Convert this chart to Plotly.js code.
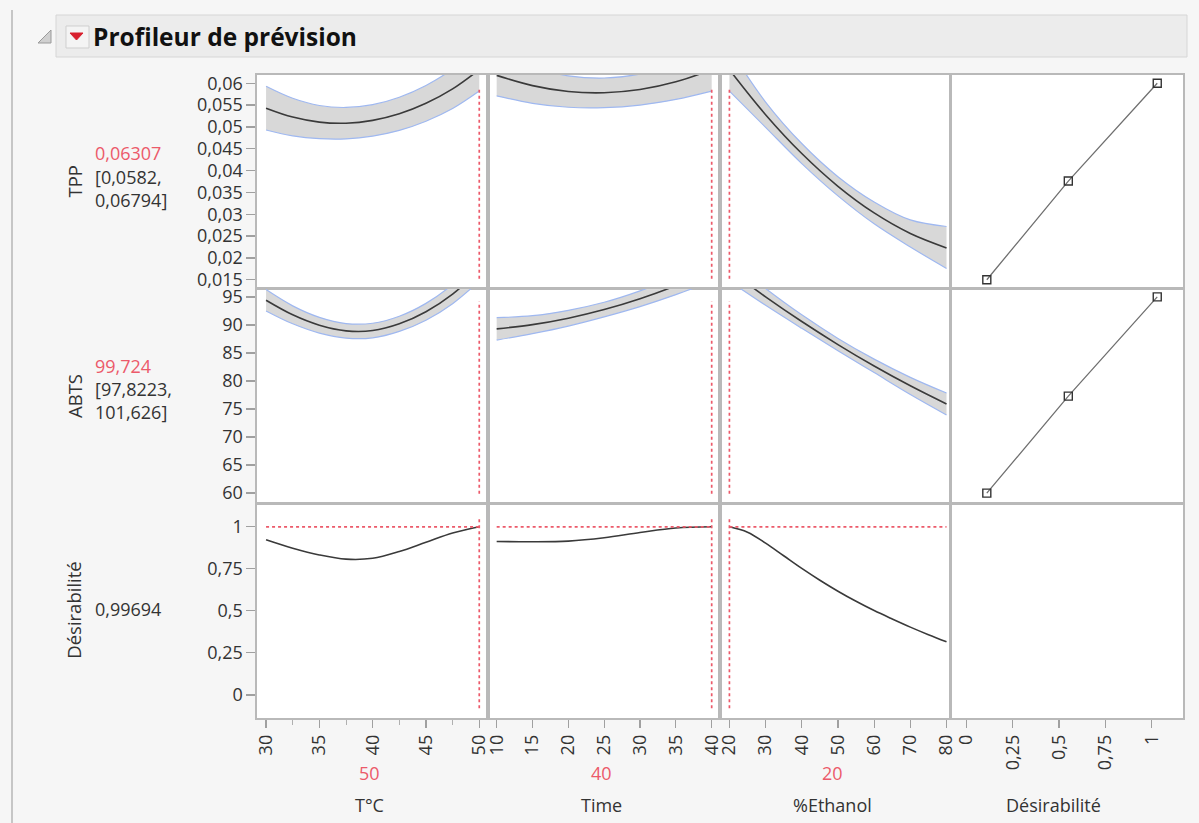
<!DOCTYPE html>
<html><head><meta charset="utf-8">
<script src="https://cdn.plot.ly/plotly-3.0.1.min.js"></script>
<style>html,body{margin:0;padding:0;background:#f6f6f6;}#chart{width:1199px;height:823px;}</style>
</head><body><div id="chart"></div>
<script>
// ---------------- DATA ----------------
const factorNames = ['T°C', 'Time', '%Ethanol', 'Désirabilité'];
const factorCurrent = [50, 40, 20];
const factorCurrentText = ['50', '40', '20'];
const responseNames = ['TPP', 'ABTS', 'Désirabilité'];
const tppPredText = '0,06307';
const tppCIText = ['[0,0582,', '0,06794]'];
const abtsPredText = '99,724';
const abtsCIText = ['[97,8223,', '101,626]'];
const desirPredText = '0,99694';
const desirCurrent = 0.99694;

const tempX = [30, 32.5, 35, 37.5, 40, 42.5, 45, 47.5, 50];
const timeX = [10, 15, 20, 25, 30, 35, 40];
const ethX = [20, 30, 40, 50, 60, 70, 80];
const ethXd = [20, 25, 30, 35, 40, 45, 50, 55, 60, 65, 70, 75, 80];

const tppTemp   = [0.0543, 0.05225, 0.0511, 0.05085, 0.0515, 0.0530, 0.0554, 0.0587, 0.0631];
const tppTempLo = [0.0493, 0.04795, 0.0473, 0.04725, 0.0479, 0.0492, 0.0513, 0.0542, 0.0582];
const tppTempHi = [0.0593, 0.05655, 0.0549, 0.05445, 0.0551, 0.0568, 0.0595, 0.0632, 0.0679];
const tppTime   = [0.0618, 0.05945, 0.0581, 0.05782, 0.05855, 0.06032, 0.0631];
const tppTimeLo = [0.0571, 0.0554, 0.0545, 0.0544, 0.0550, 0.0563, 0.0582];
const tppTimeHi = [0.0665, 0.0635, 0.0617, 0.0612, 0.0621, 0.0643, 0.0679];
const tppEth    = [0.0631, 0.0528, 0.0439, 0.0364, 0.0303, 0.0256, 0.0223];
const tppEthLo  = [0.0582, 0.0499, 0.0416, 0.0342, 0.0278, 0.0225, 0.0176];
const tppEthHi  = [0.0679, 0.0557, 0.0462, 0.0386, 0.0328, 0.0287, 0.0272];

const abtsTemp   = [94.4, 91.8, 89.95, 88.95, 89.0, 90.2, 92.35, 95.5, 99.72];
const abtsTempLo = [92.5, 90.2, 88.55, 87.65, 87.7, 88.85, 90.85, 93.8, 97.82];
const abtsTempHi = [96.3, 93.4, 91.35, 90.25, 90.3, 91.55, 93.85, 97.2, 101.63];
const abtsTime   = [89.3, 90.05, 91.2, 92.74, 94.67, 97.0, 99.72];
const abtsTimeLo = [87.3, 88.45, 89.8, 91.44, 93.27, 95.4, 97.82];
const abtsTimeHi = [91.3, 91.65, 92.6, 94.04, 96.07, 98.6, 101.63];
const abtsEth    = [99.72, 95.02, 90.61, 86.5, 82.67, 79.14, 75.9];
const abtsEthLo  = [97.82, 93.5, 89.4, 85.4, 81.5, 77.6, 73.95];
const abtsEthHi  = [101.63, 96.5, 91.8, 87.6, 83.9, 80.65, 77.85];

const desTemp = [0.92, 0.87, 0.83, 0.805, 0.81, 0.85, 0.905, 0.96, 0.997];
const desTime = [0.91, 0.908, 0.912, 0.932, 0.963, 0.99, 0.997];
const desEth  = [0.997, 0.965, 0.90, 0.825, 0.75, 0.68, 0.615, 0.555, 0.50, 0.45, 0.402, 0.357, 0.315];

const tppDesX = [0.11, 0.55, 1.03];
const tppDesY = [0.015, 0.0376, 0.06];
const abtsDesX = [0.11, 0.55, 1.03];
const abtsDesY = [60, 77.3, 95];

const tppTicks = [0.015, 0.02, 0.025, 0.03, 0.035, 0.04, 0.045, 0.05, 0.055, 0.06];
const tppTickText = ['0,015', '0,02', '0,025', '0,03', '0,035', '0,04', '0,045', '0,05', '0,055', '0,06'];
const abtsTicks = [60, 65, 70, 75, 80, 85, 90, 95];
const abtsTickText = ['60', '65', '70', '75', '80', '85', '90', '95'];
const desTicks = [0, 0.25, 0.5, 0.75, 1];
const desTickText = ['0', '0,25', '0,5', '0,75', '1'];
const tempTicks = [30, 35, 40, 45, 50];
const tempMinor = [32.5, 37.5, 42.5, 47.5];
const timeTicks = [10, 15, 20, 25, 30, 35, 40];
const ethTicks = [20, 30, 40, 50, 60, 70, 80];

// ---------------- LAYOUT GEOMETRY ----------------
const W = 1199, H = 823;
const colEdges = [257, 488, 720, 950.5, 1183];
const rowEdges = [74.5, 288.5, 503.5, 718];
const xRanges = [[29.15, 50.82], [8.79, 41.16], [17.4, 81.1], [-0.086, 1.169]];
const yRanges = [[0.013, 0.062], [58.15, 96.5], [-0.137, 1.135]];
const xTickVals = [tempTicks, timeTicks, ethTicks, desTicks];
const xTickText = [tempTicks.map(String), timeTicks.map(String), ethTicks.map(String), desTickText];
const yTickVals = [tppTicks, abtsTicks, desTicks];
const yTickText = [tppTickText, abtsTickText, desTickText];

const FONT = '"Open Sans", "Noto Sans", sans-serif';
const TXT = '#333333';
const RED = '#ec5a6a';
const px = x => x / W;
const py = y => 1 - y / H;
const suf = k => (k === 1 ? '' : String(k));

const layout = {
  width: W, height: H,
  margin: {l: 0, r: 0, t: 0, b: 0},
  paper_bgcolor: '#f6f6f6', plot_bgcolor: '#ffffff',
  showlegend: false,
  font: {family: FONT, size: 18, color: TXT},
  shapes: [], annotations: []
};

for (let r = 0; r < 3; r++) {
  for (let c = 0; c < 4; c++) {
    const k = r * 4 + c + 1;
    const xa = {
      domain: [px(colEdges[c]), px(colEdges[c + 1])],
      range: xRanges[c], anchor: 'y' + suf(k),
      showline: true, mirror: true, linecolor: '#b9b9b9', linewidth: 1.6,
      showgrid: false, zeroline: false, fixedrange: true,
      ticks: r === 2 ? 'outside' : '', ticklen: 8, tickwidth: 1.3, tickcolor: '#a0a0a0',
      showticklabels: r === 2, tickmode: 'array', tickvals: xTickVals[c], ticktext: xTickText[c],
      tickangle: -90, tickfont: {family: FONT, size: 18, color: TXT}
    };
    if (r === 2 && c === 0) {
      xa.minor = {tickmode: 'array', tickvals: tempMinor, ticks: 'outside', ticklen: 5, tickcolor: '#b0b0b0', tickwidth: 1};
    }
    const ya = {
      domain: [py(rowEdges[r + 1]), py(rowEdges[r])],
      range: yRanges[r], anchor: 'x' + suf(k),
      showline: true, mirror: true, linecolor: '#b9b9b9', linewidth: 1.6,
      showgrid: false, zeroline: false, fixedrange: true,
      ticks: c === 0 ? 'outside' : '', ticklen: 9, tickwidth: 1.3, tickcolor: '#a0a0a0',
      showticklabels: c === 0, tickmode: 'array', tickvals: yTickVals[r], ticktext: yTickText[r],
      tickfont: {family: FONT, size: 18, color: TXT}
    };
    layout['xaxis' + suf(k)] = xa;
    layout['yaxis' + suf(k)] = ya;
  }
}

const traces = [];
function band(k, x, lo, mid, hi) {
  const xr = 'x' + suf(k), yr = 'y' + suf(k);
  traces.push({x: x, y: lo, xaxis: xr, yaxis: yr, mode: 'lines', line: {color: '#9fb8f0', width: 1.2, shape: 'spline'}, hoverinfo: 'skip'});
  traces.push({x: x, y: hi, xaxis: xr, yaxis: yr, mode: 'lines', line: {color: '#9fb8f0', width: 1.2, shape: 'spline'}, fill: 'tonexty', fillcolor: '#d8d8d8', hoverinfo: 'skip'});
  traces.push({x: x, y: mid, xaxis: xr, yaxis: yr, mode: 'lines', line: {color: '#3a3a3a', width: 1.6, shape: 'spline'}});
}
function curve(k, x, y) {
  traces.push({x: x, y: y, xaxis: 'x' + suf(k), yaxis: 'y' + suf(k), mode: 'lines', line: {color: '#3a3a3a', width: 1.6, shape: 'spline'}});
}
function desFn(k, x, y) {
  traces.push({x: x, y: y, xaxis: 'x' + suf(k), yaxis: 'y' + suf(k), mode: 'lines+markers',
    line: {color: '#707070', width: 1.3},
    marker: {symbol: 'square-open', size: 8, color: '#333333', line: {width: 1.4}}});
}

band(1, tempX, tppTempLo, tppTemp, tppTempHi);
band(2, timeX, tppTimeLo, tppTime, tppTimeHi);
band(3, ethX, tppEthLo, tppEth, tppEthHi);
desFn(4, tppDesX, tppDesY);
band(5, tempX, abtsTempLo, abtsTemp, abtsTempHi);
band(6, timeX, abtsTimeLo, abtsTime, abtsTimeHi);
band(7, ethX, abtsEthLo, abtsEth, abtsEthHi);
desFn(8, abtsDesX, abtsDesY);
curve(9, tempX, desTemp);
curve(10, timeX, desTime);
curve(11, ethXd, desEth);
traces.push({x: [null], y: [null], xaxis: 'x12', yaxis: 'y12', mode: 'lines'});

// red current-value reference lines
const xData = [tempX, timeX, ethX];
for (let r = 0; r < 3; r++) {
  for (let c = 0; c < 3; c++) {
    const k = r * 4 + c + 1;
    layout.shapes.push({type: 'line', xref: 'x' + suf(k), yref: 'y' + suf(k) + ' domain',
      x0: factorCurrent[c], x1: factorCurrent[c], y0: 0.045, y1: 0.94,
      line: {color: RED, width: 1.7, dash: 'dot'}});
    if (r === 2) {
      layout.shapes.push({type: 'line', xref: 'x' + suf(k), yref: 'y' + suf(k),
        x0: xData[c][0], x1: xData[c][xData[c].length - 1], y0: desirCurrent, y1: desirCurrent,
        line: {color: RED, width: 1.7, dash: 'dot'}});
    }
  }
}

// frame decorations
layout.shapes.push({type: 'line', xref: 'paper', yref: 'paper', x0: px(12), x1: px(12), y0: py(10), y1: 0, line: {color: '#c6c6c6', width: 2}, layer: 'below'});
layout.shapes.push({type: 'rect', xref: 'paper', yref: 'paper', x0: px(56), x1: px(1187), y0: py(57), y1: py(15), fillcolor: '#ececec', line: {color: '#d6d6d6', width: 1}, layer: 'below'});
layout.shapes.push({type: 'path', xref: 'paper', yref: 'paper', path: `M ${px(51)} ${py(30)} L ${px(51)} ${py(43)} L ${px(38)} ${py(43)} Z`, fillcolor: '#d0d0d0', line: {color: '#9a9a9a', width: 1}});
layout.shapes.push({type: 'rect', xref: 'paper', yref: 'paper', x0: px(66), x1: px(89), y0: py(48), y1: py(26), fillcolor: '#f4f4f4', line: {color: '#cfcfcf', width: 1}});
layout.shapes.push({type: 'path', xref: 'paper', yref: 'paper', path: `M ${px(70)} ${py(33)} L ${px(83)} ${py(33)} L ${px(76.5)} ${py(40)} Z`, fillcolor: '#d8202e', line: {color: '#d8202e', width: 1}});

// annotations
const ann = (x, y, text, opts) => Object.assign({xref: 'paper', yref: 'paper', x: px(x), y: py(y), text: text, showarrow: false,
  font: {family: FONT, size: 18, color: TXT}, xanchor: 'center', yanchor: 'middle'}, opts || {});

layout.annotations.push(ann(91, 36, 'Profileur de prévision', {xanchor: 'left', font: {family: FONT, size: 24.5, color: '#111111', weight: 700}}));

const rowCenters = rowEdges.slice(0, 3).map((e, i) => (e + rowEdges[i + 1]) / 2);
responseNames.forEach((n, i) => layout.annotations.push(ann(74, rowCenters[i], n, {textangle: -90, font: {family: FONT, size: 18.5, color: TXT}})));

layout.annotations.push(ann(93, 153, tppPredText, {xanchor: 'left', font: {family: FONT, size: 18, color: RED}}));
layout.annotations.push(ann(93, 177, tppCIText[0], {xanchor: 'left'}));
layout.annotations.push(ann(93, 200, tppCIText[1], {xanchor: 'left'}));
layout.annotations.push(ann(93, 366, abtsPredText, {xanchor: 'left', font: {family: FONT, size: 18, color: RED}}));
layout.annotations.push(ann(93, 389, abtsCIText[0], {xanchor: 'left'}));
layout.annotations.push(ann(93, 412, abtsCIText[1], {xanchor: 'left'}));
layout.annotations.push(ann(93, 609, desirPredText, {xanchor: 'left'}));

const nameX = [369, 601, 832, 1053];
factorCurrentText.forEach((t, i) => layout.annotations.push(ann(nameX[i], 773, t, {font: {family: FONT, size: 18, color: RED}})));
factorNames.forEach((t, i) => layout.annotations.push(ann(nameX[i], 805, t)));

Plotly.newPlot('chart', traces, layout, {displayModeBar: false, staticPlot: true});
</script></body></html>
